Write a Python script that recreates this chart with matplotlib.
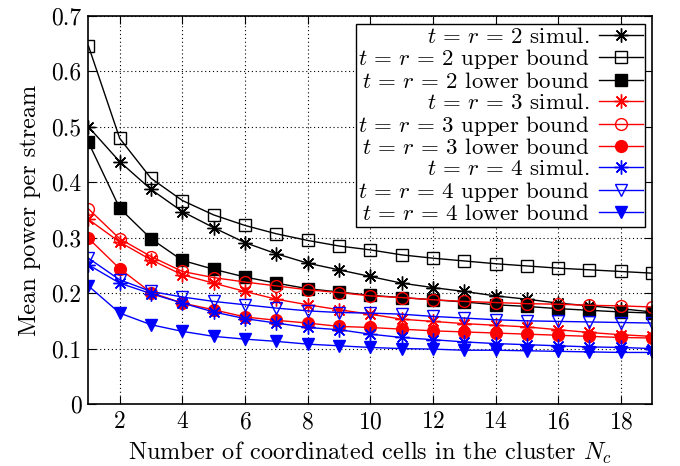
import numpy as np
import matplotlib
matplotlib.use("Agg")
import matplotlib.pyplot as plt
from matplotlib.ticker import FormatStrFormatter

plt.rcParams['font.family'] = 'serif'
plt.rcParams['font.serif'] = ['cmr10']
plt.rcParams['mathtext.fontset'] = 'cm'
plt.rcParams['axes.formatter.use_mathtext'] = True

n_c = np.arange(1, 20)

# t = r = 2
sim_2 = [0.500, 0.437, 0.387, 0.347, 0.318, 0.291, 0.271, 0.254, 0.242, 0.230,
         0.218, 0.210, 0.203, 0.195, 0.189, 0.182, 0.177, 0.172, 0.166]
up_2 = [0.646, 0.479, 0.407, 0.367, 0.341, 0.322, 0.307, 0.295, 0.285, 0.278,
        0.269, 0.263, 0.258, 0.253, 0.249, 0.245, 0.242, 0.239, 0.236]
low_2 = [0.472, 0.353, 0.298, 0.259, 0.243, 0.229, 0.218, 0.208, 0.202, 0.196,
         0.192, 0.188, 0.184, 0.179, 0.176, 0.172, 0.169, 0.166, 0.164]
# t = r = 3
sim_3 = [0.333, 0.292, 0.260, 0.233, 0.218, 0.203, 0.189, 0.179, 0.170, 0.162,
         0.153, 0.149, 0.145, 0.142, 0.139, 0.134, 0.129, 0.125, 0.122]
up_3 = [0.352, 0.298, 0.266, 0.239, 0.228, 0.220, 0.213, 0.206, 0.201, 0.195,
        0.192, 0.188, 0.185, 0.183, 0.181, 0.180, 0.178, 0.177, 0.175]
low_3 = [0.299, 0.244, 0.201, 0.182, 0.170, 0.157, 0.151, 0.146, 0.140, 0.138,
         0.135, 0.132, 0.130, 0.128, 0.126, 0.124, 0.122, 0.120, 0.119]
# t = r = 4
sim_4 = [0.251, 0.218, 0.199, 0.182, 0.166, 0.154, 0.146, 0.138, 0.134, 0.126,
         0.120, 0.116, 0.112, 0.109, 0.107, 0.105, 0.103, 0.102, 0.100]
up_4 = [0.263, 0.224, 0.203, 0.193, 0.185, 0.179, 0.173, 0.168, 0.165, 0.164,
        0.162, 0.158, 0.155, 0.152, 0.150, 0.149, 0.148, 0.147, 0.146]
low_4 = [0.213, 0.164, 0.143, 0.131, 0.122, 0.117, 0.113, 0.108, 0.105, 0.102,
         0.100, 0.099, 0.097, 0.097, 0.096, 0.095, 0.094, 0.093, 0.093]

star = (8, 2, 0)
series = [
    (sim_2, 'k', star, 'k', r'$t\,=\,r\,=\,2$ simul.'),
    (up_2, 'k', 's', 'none', r'$t\,=\,r\,=\,2$ upper bound'),
    (low_2, 'k', 's', 'k', r'$t\,=\,r\,=\,2$ lower bound'),
    (sim_3, 'r', star, 'r', r'$t\,=\,r\,=\,3$ simul.'),
    (up_3, 'r', 'o', 'none', r'$t\,=\,r\,=\,3$ upper bound'),
    (low_3, 'r', 'o', 'r', r'$t\,=\,r\,=\,3$ lower bound'),
    (sim_4, 'b', star, 'b', r'$t\,=\,r\,=\,4$ simul.'),
    (up_4, 'b', 'v', 'none', r'$t\,=\,r\,=\,4$ upper bound'),
    (low_4, 'b', 'v', 'b', r'$t\,=\,r\,=\,4$ lower bound'),
]

fig = plt.figure(figsize=(6.8, 4.66), dpi=100)
ax = fig.add_axes([0.130, 0.133, 0.829, 0.833])

for y, c, m, fc, lab in series:
    ms = 10 if m == star else 8.5
    ax.plot(n_c, y, color=c, marker=m, markerfacecolor=fc, markeredgecolor=c,
            markersize=ms, markeredgewidth=1.0, linewidth=1.0, label=lab)

ax.set_xlim(1, 19)
ax.set_ylim(0, 0.7)
ax.set_xticks(np.arange(2, 19, 2))
ax.set_yticks(np.arange(0, 0.71, 0.1))
ax.yaxis.set_major_formatter(FormatStrFormatter('%g'))
ax.tick_params(direction='in', top=True, right=True, length=6, labelsize=17, pad=5)
ax.grid(True, linestyle=(0, (1, 2.5)), color='k', linewidth=0.8)
for s in ax.spines.values():
    s.set_linewidth(1.2)

ax.set_xlabel(r'Number of coordinated cells in the cluster $N_c$', fontsize=17.5, labelpad=5)
ax.set_ylabel('Mean power per stream', fontsize=17.5, labelpad=7)

leg = ax.legend(loc='upper right', bbox_to_anchor=(0.988, 0.979), borderaxespad=0,
                markerfirst=False, fontsize=16.5, labelspacing=0.03, handlelength=1.9,
                handletextpad=0.4, borderpad=0.12, fancybox=False, framealpha=1,
                edgecolor='k')
leg.get_frame().set_linewidth(1.0)
for t in leg.get_texts():
    t.set_ha('right')
leg._legend_box.align = 'right'

fig.savefig('out.png', dpi=100)
